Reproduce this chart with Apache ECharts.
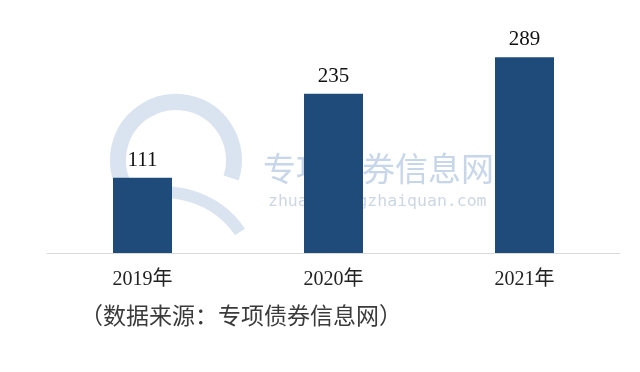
<!DOCTYPE html>
<html>
<head>
<meta charset="utf-8">
<script src="https://cdn.jsdelivr.net/npm/echarts@6/dist/echarts.min.js"></script>
<style>html,body{margin:0;padding:0;background:#fff;}#c{width:640px;height:372px;}</style>
</head>
<body>
<div id="c"></div>
<script>
var categories = ['2019年', '2020年', '2021年'];
var values = [111, 235, 289];
var sourceNote = '（数据来源：专项债券信息网）';
var watermarkCn = '专项债券信息网';
var watermarkEn = 'zhuanxiangzhaiquan.com';

var chart = echarts.init(document.getElementById('c'));
chart.setOption({
  backgroundColor: '#ffffff',
  animation: false,
  grid: {left: 47, right: 20, top: 16, bottom: 119},
  xAxis: {
    type: 'category',
    data: categories,
    axisLine: {lineStyle: {color: '#d9d9d9', width: 1}},
    axisTick: {show: false},
    axisLabel: {
      margin: 17,
      color: '#222',
      fontSize: 20,
      fontFamily: '"Liberation Serif", "Noto Sans CJK SC", serif'
    }
  },
  yAxis: {
    type: 'value',
    min: 0,
    max: 350,
    show: false,
    splitLine: {show: false}
  },
  graphic: [
    {type: 'arc', z: -10, silent: true,
      shape: {cx: 176, cy: 160, r: 58, startAngle: Math.PI * 0.82, endAngle: Math.PI * 2.1},
      style: {stroke: '#d3dfef', lineWidth: 16, fill: null, opacity: 0.85}},
    {type: 'bezierCurve', z: -10, silent: true,
      shape: {x1: 128, y1: 196, cpx1: 170, cpy1: 185, x2: 240, y2: 232, cpx2: 215, cpy2: 195},
      style: {stroke: '#d3dfef', lineWidth: 12, fill: null, opacity: 0.85}},
    {type: 'text', z: -10, silent: true, left: 263, top: 152,
      style: {text: watermarkCn, fontSize: 33, fill: '#c8d6ea', fontFamily: '"Noto Sans CJK SC", sans-serif'}},
    {type: 'text', z: -10, silent: true, left: 268, top: 193,
      style: {text: watermarkEn, fontSize: 16.5, fill: '#cdd7e4', fontFamily: '"DejaVu Sans Mono", monospace'}},
    {type: 'text', left: 80, top: 304,
      style: {text: sourceNote, fontSize: 23, fill: '#3a3a3a', fontFamily: '"Noto Sans CJK SC", sans-serif'}}
  ],
  series: [{
    type: 'bar',
    data: values,
    barWidth: 59,
    itemStyle: {color: '#1f4b7a'},
    label: {
      show: true,
      position: 'top',
      distance: 7,
      color: '#111',
      fontSize: 21,
      fontFamily: '"Liberation Serif", serif'
    }
  }]
});
</script>
</body>
</html>
